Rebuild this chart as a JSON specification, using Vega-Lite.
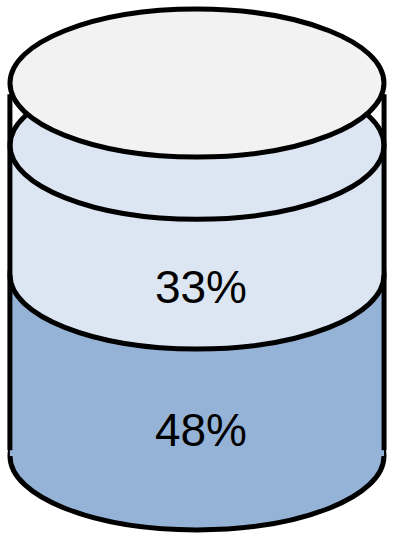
{
  "$schema": "https://vega.github.io/schema/vega-lite/v6.json",
  "width": 393,
  "height": 540,
  "autosize": {"type": "fit", "contains": "padding"},
  "padding": 0,
  "background": "white",
  "config": {"view": {"stroke": null}},
  "data": {
    "values": [
      {"segment": "48%", "label": "48%", "start": 0, "end": 48.5, "label_at": 6.4},
      {"segment": "33%", "label": "33%", "start": 48.5, "end": 83.3, "label_at": 44.8},
      {"segment": "rest", "label": "", "start": 83.3, "end": 100, "label_at": null}
    ]
  },
  "layer": [
    {
      "transform": [{"filter": "datum.segment === '48%'"}],
      "mark": {"type": "point", "shape": "M-1,0C-1,-0.2185,-0.5523,-0.3957,0,-0.3957C0.5523,-0.3957,1,-0.2185,1,0C1,0.2185,0.5523,0.3957,0,0.3957C-0.5523,0.3957,-1,0.2185,-1,0Z", "filled": true, "size": 139876, "opacity": 1, "stroke": "black", "strokeWidth": 5},
      "encoding": {
        "x": {"datum": 50, "type": "quantitative", "scale": {"domain": [-2.646, 101.32], "nice": false, "zero": false}, "axis": null},
        "y": {"field": "start", "type": "quantitative", "scale": {"domain": [-20.95, 122.28], "nice": false, "zero": false}, "axis": null},
        "color": {"field": "segment", "type": "nominal", "scale": {"domain": ["48%", "33%", "rest"], "range": ["#95b3d7", "#dce6f2", "#f2f2f2"]}, "legend": null}
      }
    },
    {
      "transform": [{"filter": "datum.segment === '48%'"}],
      "mark": {"type": "rect"},
      "encoding": {
        "x": {"datum": 0, "type": "quantitative", "axis": null},
        "x2": {"datum": 100},
        "y": {"field": "start", "type": "quantitative", "axis": null},
        "y2": {"field": "end"},
        "color": {"field": "segment", "type": "nominal", "legend": null}
      }
    },
    {
      "transform": [{"filter": "datum.segment === '33%'"}],
      "mark": {"type": "point", "shape": "M-1,0C-1,-0.2185,-0.5523,-0.3957,0,-0.3957C0.5523,-0.3957,1,-0.2185,1,0C1,0.2185,0.5523,0.3957,0,0.3957C-0.5523,0.3957,-1,0.2185,-1,0Z", "filled": true, "size": 139876, "opacity": 1, "stroke": "black", "strokeWidth": 5},
      "encoding": {
        "x": {"datum": 50, "type": "quantitative", "axis": null},
        "y": {"field": "start", "type": "quantitative", "axis": null},
        "color": {"field": "segment", "type": "nominal", "legend": null}
      }
    },
    {
      "transform": [{"filter": "datum.segment === '33%'"}],
      "mark": {"type": "rect"},
      "encoding": {
        "x": {"datum": 0, "type": "quantitative", "axis": null},
        "x2": {"datum": 100},
        "y": {"field": "start", "type": "quantitative", "axis": null},
        "y2": {"field": "end"},
        "color": {"field": "segment", "type": "nominal", "legend": null}
      }
    },
    {
      "transform": [{"filter": "datum.segment === '33%'"}],
      "mark": {"type": "point", "shape": "M-1,0C-1,-0.2185,-0.5523,-0.3957,0,-0.3957C0.5523,-0.3957,1,-0.2185,1,0C1,0.2185,0.5523,0.3957,0,0.3957C-0.5523,0.3957,-1,0.2185,-1,0Z", "filled": true, "size": 139876, "opacity": 1, "stroke": "black", "strokeWidth": 5},
      "encoding": {
        "x": {"datum": 50, "type": "quantitative", "axis": null},
        "y": {"field": "end", "type": "quantitative", "axis": null},
        "color": {"field": "segment", "type": "nominal", "legend": null}
      }
    },
    {
      "transform": [{"filter": "datum.segment === 'rest'"}],
      "mark": {"type": "point", "shape": "M-1,0C-1,-0.2185,-0.5523,-0.3957,0,-0.3957C0.5523,-0.3957,1,-0.2185,1,0C1,0.2185,0.5523,0.3957,0,0.3957C-0.5523,0.3957,-1,0.2185,-1,0Z", "filled": true, "size": 139876, "opacity": 1, "stroke": "black", "strokeWidth": 5},
      "encoding": {
        "x": {"datum": 50, "type": "quantitative", "axis": null},
        "y": {"field": "end", "type": "quantitative", "axis": null},
        "color": {"field": "segment", "type": "nominal", "legend": null}
      }
    },
    {
      "data": {"values": [{"wall": 0}, {"wall": 100}]},
      "mark": {"type": "rule", "color": "black", "strokeWidth": 5, "strokeCap": "butt"},
      "encoding": {
        "x": {"field": "wall", "type": "quantitative", "axis": null},
        "y": {"datum": 1.5, "type": "quantitative", "axis": null},
        "y2": {"datum": 97}
      }
    },
    {
      "transform": [{"filter": "datum.label !== ''"}],
      "mark": {"type": "text", "font": "Liberation Sans", "fontSize": 46, "color": "black", "baseline": "middle", "align": "center", "dx": 4},
      "encoding": {
        "x": {"datum": 50, "type": "quantitative", "axis": null},
        "y": {"field": "label_at", "type": "quantitative", "axis": null},
        "text": {"field": "label", "type": "nominal"}
      }
    }
  ]
}
